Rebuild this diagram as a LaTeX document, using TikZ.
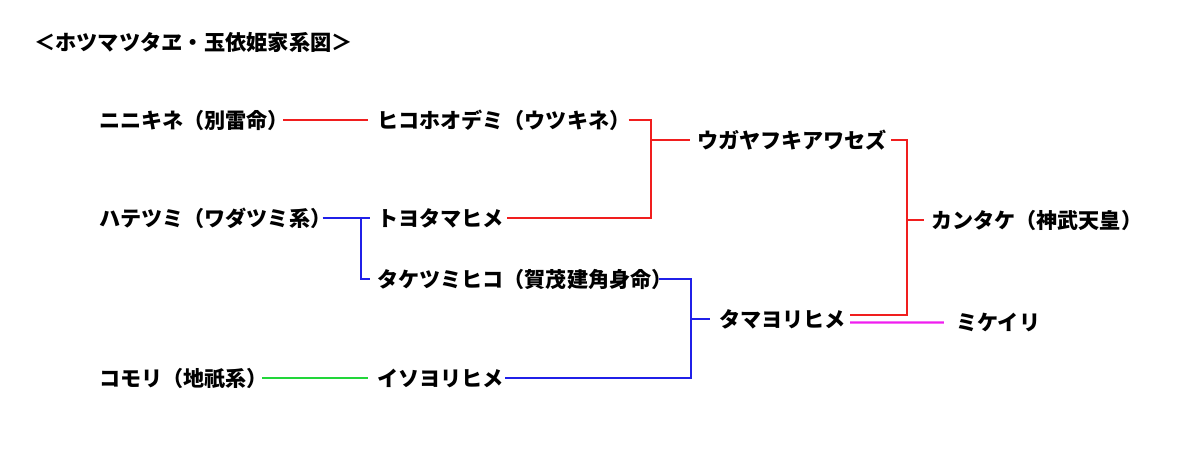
\documentclass[tikz,border=0pt]{standalone}
\usepackage{fontspec}
\newfontfamily\jpfont{Noto Sans CJK JP}
\usetikzlibrary{positioning}
\definecolor{KinRed}{HTML}{F01E1E}
\definecolor{KinBlue}{HTML}{2020E8}
\definecolor{KinGreen}{HTML}{22D63A}
\definecolor{KinPink}{HTML}{F01EF0}
\tikzset{
  every path/.style={line width=1.7pt},
  person/.style={anchor=west,inner sep=0pt,font=\jpfont\bfseries\fontsize{15pt}{17pt}\selectfont},
  titletext/.style={anchor=west,inner sep=0pt,font=\jpfont\bfseries\fontsize{15.1pt}{17pt}\selectfont},
  redline/.style={draw=KinRed},
  blueline/.style={draw=KinBlue},
  greenline/.style={draw=KinGreen},
  pinkline/.style={draw=KinPink}
}
\newcommand{\kin}[3]{%
  \node[person] (#1) at #2 {#3};
}

\begin{document}
\begin{tikzpicture}[x=0.025cm,y=-0.025cm]
  \useasboundingbox (0,0) rectangle (1200,452);
  \node[titletext] (title) at (33,42) {＜ホツマツタヱ・玉依姫家系図＞};

  \kin{ninigi}{(98,120)}{ニニキネ（別雷命）}
  \kin{hikoho}{(376,120)}{ヒコホオデミ（ウツキネ）}
  \kin{hatetsumi}{(98,218)}{ハテツミ（ワダツミ系）}
  \kin{toyotama}{(376,218)}{トヨタマヒメ}
  \kin{taketsumi}{(376,279)}{タケツミヒコ（賀茂建角身命）}
  \kin{komori}{(98,378)}{コモリ（地祇系）}
  \kin{isoyori}{(376,378)}{イソヨリヒメ}
  \kin{ugaya}{(696,140)}{ウガヤフキアワセズ}
  \kin{tamayori}{(718,319)}{タマヨリヒメ}
  \kin{kantake}{(930,220)}{カンタケ（神武天皇）}
  \kin{mikeiri}{(955,322.5)}{ミケイリ}

  \coordinate (upfork) at (651,140);
  \coordinate (rightfork) at (907,220);
  \coordinate (seafork) at (361,218);
  \coordinate (lowfork) at (691,319);

  % red line
  \draw[redline] ([xshift=-5pt]ninigi.east) -- ([xshift=-6pt]hikoho.west);
  \draw[redline] ([xshift=-2pt]hikoho.east) -| (upfork) |- ([xshift=1.6pt]toyotama.east);
  \draw[redline] (upfork) -- ([xshift=-4pt]ugaya.west);
  \draw[redline] ([xshift=2.3pt]ugaya.east) -| (rightfork) |- ([xshift=2.3pt,yshift=3pt]tamayori.east);
  \draw[redline] (rightfork) -- ([xshift=-4pt]kantake.west);
  \draw[pinkline] ([xshift=2.3pt,yshift=-2.5pt]tamayori.east) -- ([xshift=-8pt]mikeiri.west);

  % blue line
  \draw[blueline] ([xshift=-7pt]hatetsumi.east) -- ([xshift=-4pt]toyotama.west);
  \draw[blueline] (seafork) |- ([xshift=-4pt]taketsumi.west);
  \draw[blueline] ([xshift=-10.8pt]taketsumi.east) -| (lowfork) |- ([xshift=0.3pt]isoyori.east);
  \draw[blueline] (lowfork) -- ([xshift=-6pt]tamayori.west);

  % green line
  \draw[greenline] ([xshift=-5pt]komori.east) -- ([xshift=-6pt]isoyori.west);
\end{tikzpicture}
\end{document}
